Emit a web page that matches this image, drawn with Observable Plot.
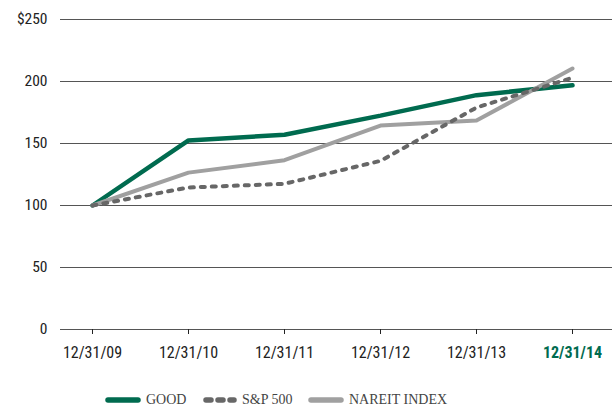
<!DOCTYPE html>
<html><head><meta charset="utf-8">
<script src="https://cdn.jsdelivr.net/npm/d3@7"></script>
<script src="https://cdn.jsdelivr.net/npm/@observablehq/plot@0.6"></script>
<style>
body{margin:0;background:#fff;position:relative;width:612px;height:409px;overflow:hidden;}
#chart svg{display:block;}
#legend{position:absolute;left:0;top:390px;width:612px;height:20px;font-family:"Liberation Serif","DejaVu Serif",serif;font-size:14px;color:#444;}
#legend .it{position:absolute;top:0;display:flex;align-items:center;height:20px;white-space:nowrap;}
#legend svg{margin-right:5px;}
</style></head><body>
<div id="chart"></div>
<div id="legend"></div>
<script>
const dates = ["12/31/09","12/31/10","12/31/11","12/31/12","12/31/13","12/31/14"];
const good = [100,152.5,157,172.5,189,197];
const sp500 = [100,114.5,117.5,136,179,203];
const nareit = [100,126.5,136.5,164.5,168.5,210.5];
const yTicks = [0,50,100,150,200,250];
const seriesNames = ["GOOD","S&P 500","NAREIT INDEX"];
const colors = ["#006b4f","#676767","#a0a0a0"];

const mk = vals => dates.map((d,i)=>({date:d,value:vals[i]}));
const font = '"Liberation Sans Narrow","Arial Narrow","Roboto Condensed","Liberation Sans",sans-serif';

const chart = Plot.plot({
  width:612, height:385,
  marginTop:19, marginBottom:56, marginLeft:60, marginRight:0,
  style:{fontFamily:font, fontSize:"16px", color:"#222", background:"#fff"},
  x:{type:"point", domain:dates, padding:0.363, align:0.443},
  y:{domain:[0,250]},
  marks:[
    Plot.ruleY(yTicks,{stroke:"#555",strokeWidth:1}),
    Plot.axisY(yTicks,{tickSize:0,tickPadding:13,tickFormat:d=>d===250?"$250":String(d),fontSize:15.5,label:null}),
    Plot.axisX({tickSize:5,tickPadding:12,stroke:"#222",fontSize:16,label:null}),
    Plot.line(mk(good),{x:"date",y:"value",stroke:colors[0],strokeWidth:4.5,strokeLinejoin:"miter"}),
    Plot.line(mk(nareit),{x:"date",y:"value",stroke:colors[2],strokeWidth:4}),
    Plot.line(mk(sp500),{x:"date",y:"value",stroke:colors[1],strokeWidth:4,strokeDasharray:"4,7",strokeLinecap:"round"})
  ]
});
document.getElementById("chart").appendChild(chart);
const xl = chart.querySelectorAll('[aria-label="x-axis tick label"] text');
if (xl.length){ const last = xl[xl.length-1]; last.setAttribute("fill","#006b4f"); last.setAttribute("font-weight","bold"); }

const legLeft = [105,203,308];
const leg = document.getElementById("legend");
seriesNames.forEach((n,i)=>{
  const it = document.createElement("div"); it.className="it";
  it.style.left = legLeft[i]+"px";
  const dash = i===1 ? 'stroke-dasharray="5,7" stroke-linecap="round"' : 'stroke-linecap="round"';
  it.innerHTML = `<svg width="${i===1?34:36}" height="8"><line x1="3" y1="4" x2="${i===1?31:33}" y2="4" stroke="${colors[i]}" stroke-width="5.5" ${dash}/></svg><span>${n}</span>`;
  leg.appendChild(it);
});
</script>
</body></html>
